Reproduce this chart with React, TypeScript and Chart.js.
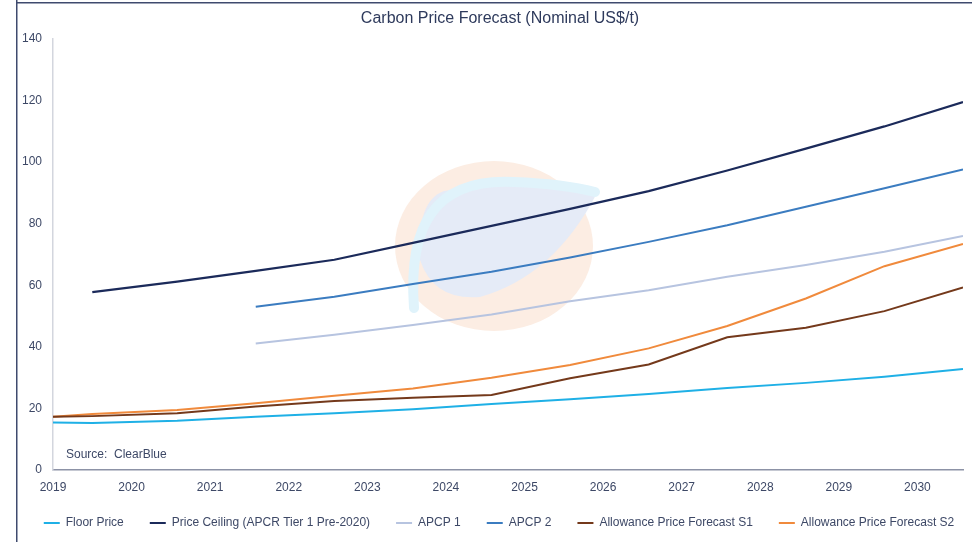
import React, { useEffect, useRef } from "react";
import { Chart, registerables } from "chart.js";

Chart.register(...registerables);

// Time positions of the data points (fractional years)
const PERIODS = [2019, 2019.5, 2020.58, 2021.58, 2022.58, 2023.58, 2024.58, 2025.58, 2026.58, 2027.58, 2028.58, 2029.58, 2030.58];
const YEAR_TICKS = [2019, 2020, 2021, 2022, 2023, 2024, 2025, 2026, 2027, 2028, 2029, 2030];

const FLOOR_PRICE = [15.4, 15.3, 16.0, 17.3, 18.4, 19.7, 21.4, 23.0, 24.7, 26.6, 28.3, 30.3, 32.8];
const PRICE_CEILING = [null, 57.8, 61.2, 64.7, 68.3, 73.8, 79.3, 84.8, 90.6, 97.3, 104.4, 111.6, 119.5];
const APCP_1 = [null, null, null, 41.1, 43.9, 47.1, 50.5, 54.8, 58.4, 62.8, 66.6, 70.9, 76.0];
const APCP_2 = [null, null, null, 53.0, 56.3, 60.4, 64.4, 69.0, 74.1, 79.5, 85.5, 91.5, 97.6];
const FORECAST_S1 = [17.3, 17.5, 18.4, 20.6, 22.4, 23.5, 24.4, 29.8, 34.3, 43.1, 46.2, 51.6, 59.3];
const FORECAST_S2 = [17.3, 18.2, 19.5, 21.7, 24.1, 26.5, 30.0, 34.1, 39.5, 46.8, 55.7, 66.2, 73.4];

const SERIES_NAMES = [
  "Floor Price",
  "Price Ceiling (APCR Tier 1 Pre-2020)",
  "APCP 1",
  "APCP 2",
  "Allowance Price Forecast S1",
  "Allowance Price Forecast S2",
];
const SERIES_COLORS = ["#1fb0e6", "#1b2a5a", "#b7c4e0", "#3b7cc0", "#74391b", "#f08a3c"];
const SERIES_WIDTHS = [2, 2.2, 2, 2, 2, 2];

const TITLE = "Carbon Price Forecast (Nominal US$/t)";
const SOURCE = "Source:  ClearBlue";
const TEXT_COLOR = "#3d4866";
const FONT = "'Liberation Sans', Arial, sans-serif";

const framePlugin = {
  id: "frame",
  beforeDraw(chart: any) {
    const { ctx, width, height } = chart;
    ctx.save();
    ctx.fillStyle = "#ffffff";
    ctx.fillRect(0, 0, width, height);
    ctx.fillStyle = "#3f4a6e";
    ctx.fillRect(16, 0, 1.5, height);
    ctx.fillRect(16, 2, width - 16, 1.5);
    ctx.restore();
  },
};

const watermarkPlugin = {
  id: "watermark",
  beforeDatasetsDraw(chart: any) {
    const { ctx } = chart;
    const cx = 494;
    const cy = 246;
    ctx.save();
    ctx.fillStyle = "#fcede3";
    ctx.beginPath();
    ctx.ellipse(cx, cy, 99, 85, 0, 0, Math.PI * 2);
    ctx.fill();
    // leaf body
    ctx.fillStyle = "#e5ebf7";
    ctx.beginPath();
    ctx.moveTo(cx + 103, cy - 53);
    ctx.quadraticCurveTo(cx + 20, cy - 66, cx - 50, cy - 55);
    ctx.quadraticCurveTo(cx - 78, cy - 45, cx - 74, cy + 14);
    ctx.quadraticCurveTo(cx - 60, cy + 55, cx - 14, cy + 51);
    ctx.quadraticCurveTo(cx + 60, cy + 30, cx + 103, cy - 53);
    ctx.fill();
    // light cyan band: stem rising along the left edge and over the top to the tip
    ctx.strokeStyle = "#e0f3fb";
    ctx.lineWidth = 10;
    ctx.lineCap = "round";
    ctx.lineJoin = "round";
    ctx.beginPath();
    ctx.moveTo(cx - 80, cy + 62);
    ctx.bezierCurveTo(cx - 86, cy - 20, cx - 60, cy - 68, cx + 20, cy - 64);
    ctx.quadraticCurveTo(cx + 70, cy - 62, cx + 101, cy - 54);
    ctx.stroke();
    ctx.restore();
  },
};

const sourcePlugin = {
  id: "sourceNote",
  afterDatasetsDraw(chart: any) {
    const { ctx, chartArea } = chart;
    ctx.save();
    ctx.font = `12px ${FONT}`;
    ctx.fillStyle = TEXT_COLOR;
    ctx.textAlign = "left";
    ctx.textBaseline = "alphabetic";
    ctx.fillText(SOURCE, chartArea.left + 13, chartArea.bottom - 12);
    ctx.restore();
  },
};

const boxShiftPlugin = {
  id: "boxShift",
  afterLayout(chart: any) {
    const lg = chart.legend;
    if (lg) {
      lg.left += 12;
      lg.right += 14;
      lg.top -= 5;
      lg.bottom -= 5;
    }
    const tb = chart.titleBlock;
    if (tb) {
      tb.left += 14;
      tb.right += 14;
    }
  },
};

export default function App() {
  const ref = useRef<HTMLCanvasElement>(null);

  useEffect(() => {
    const canvas = ref.current;
    if (!canvas) return;
    const all = [FLOOR_PRICE, PRICE_CEILING, APCP_1, APCP_2, FORECAST_S1, FORECAST_S2];
    const datasets = all.map((vals, i) => ({
      label: SERIES_NAMES[i],
      data: PERIODS.map((x, j) => ({ x, y: vals[j] })),
      borderColor: SERIES_COLORS[i],
      backgroundColor: SERIES_COLORS[i],
      borderWidth: SERIES_WIDTHS[i],
      pointRadius: 0,
      pointHoverRadius: 0,
      tension: 0,
      fill: false,
      spanGaps: false,
    }));

    const chart = new Chart(canvas, {
      type: "line",
      data: { datasets: datasets as any },
      plugins: [framePlugin, watermarkPlugin, sourcePlugin, boxShiftPlugin],
      options: {
        responsive: false,
        animation: false,
        devicePixelRatio: 1,
        layout: { padding: { left: 0, right: 0, top: 3, bottom: 0 } },
        plugins: {
          title: {
            display: true,
            text: TITLE,
            color: "#2e3a5c",
            font: { family: FONT, size: 16, weight: "normal" as any },
            padding: { top: 6, bottom: 10.8 },
          },
          legend: {
            display: true,
            position: "bottom",
            maxHeight: 46,
            labels: {
              boxWidth: 16,
              boxHeight: 2,
              padding: 26,
              color: TEXT_COLOR,
              font: { family: FONT, size: 12 },
              generateLabels: (c: any) =>
                c.data.datasets.map((ds: any, i: number) => ({
                  text: ds.label,
                  fillStyle: ds.borderColor,
                  strokeStyle: ds.borderColor,
                  lineWidth: 0,
                  hidden: false,
                  datasetIndex: i,
                  fontColor: TEXT_COLOR,
                })),
            },
          },
          tooltip: { enabled: false },
        },
        scales: {
          x: {
            type: "linear",
            min: 2019,
            max: 2030.58,
            afterFit: (s: any) => {
              s.height = 26;
            },
            afterBuildTicks: (s: any) => {
              s.ticks = YEAR_TICKS.map((v) => ({ value: v }));
            },
            ticks: {
              stepSize: 1,
              includeBounds: false,
              autoSkip: false,
              maxRotation: 0,
              padding: 10,
              color: TEXT_COLOR,
              font: { family: FONT, size: 12 },
              callback: (v: any) => String(v),
            },
            grid: { display: false, drawTicks: false },
            border: { display: true, color: "#8c92a6", width: 1.5 },
          },
          y: {
            type: "linear",
            position: "left",
            min: 0,
            max: 140,
            afterFit: (s: any) => {
              s.width = 53;
            },
            ticks: {
              stepSize: 20,
              padding: 11,
              color: TEXT_COLOR,
              font: { family: FONT, size: 12 },
            },
            grid: { display: false, drawTicks: false },
            border: { display: true, color: "#d3d6de", width: 1.5 },
          },
          yRight: {
            type: "linear",
            position: "right",
            display: true,
            min: 0,
            max: 140,
            afterFit: (s: any) => {
              s.width = 9;
            },
            ticks: { display: false },
            grid: { display: false, drawTicks: false },
            border: { display: false },
          },
        },
      } as any,
    });
    return () => chart.destroy();
  }, []);

  return (
    <div style={{ position: "absolute", left: 0, top: 0, width: 972, height: 542, background: "#fff" }}>
      <canvas ref={ref} width={972} height={542} style={{ display: "block", width: 972, height: 542 }} />
    </div>
  );
}
